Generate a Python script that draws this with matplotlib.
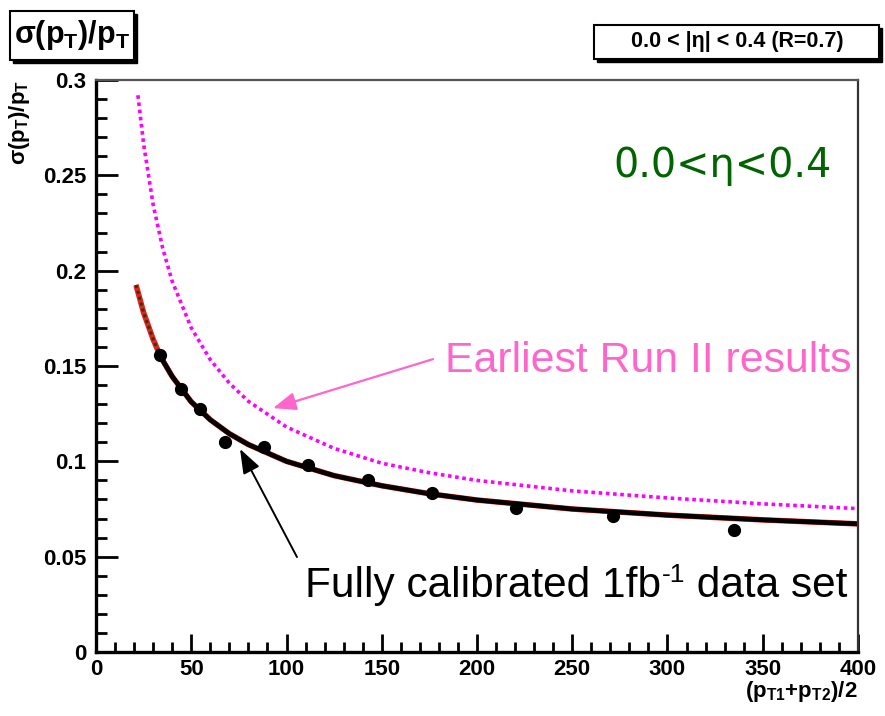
import numpy as np
import matplotlib.pyplot as plt
from matplotlib.patches import Rectangle

plt.rcParams['font.family'] = ['Liberation Sans', 'DejaVu Sans']
plt.rcParams['mathtext.fontset'] = 'custom'
plt.rcParams['mathtext.rm'] = 'Liberation Sans'
plt.rcParams['mathtext.bf'] = 'Liberation Sans:bold'
plt.rcParams['mathtext.it'] = 'Liberation Sans:italic'

# measured points (dijet balance)
pt_data = [33.6, 44.5, 54.6, 67.7, 88.2, 111.5, 142.6, 176.2, 220.3, 271.6, 335.0]
res_data = [0.1560, 0.1378, 0.1273, 0.1103, 0.1073, 0.0981, 0.0902, 0.0835, 0.0753, 0.0713, 0.0640]

# fit curve of the 1fb-1 data
pt_fit = [21, 25, 30, 33, 35, 40, 50, 60, 70, 80, 100, 125, 150, 175, 200, 250, 300, 350, 400]
res_fit = [0.1925, 0.1780, 0.1640, 0.1570, 0.1530, 0.1445, 0.1312, 0.1218, 0.1145, 0.1088,
           0.1000, 0.0925, 0.0872, 0.0830, 0.0797, 0.0750, 0.0718, 0.0693, 0.0672]

# earliest Run II curve
pt_old = [22, 25, 30, 35, 40, 50, 60, 70, 80, 100, 125, 150, 175, 200, 250, 300, 350, 400]
res_old = [0.2920, 0.2663, 0.2346, 0.2118, 0.1944, 0.1700, 0.1533, 0.1410, 0.1315, 0.1180,
           0.1068, 0.0990, 0.0940, 0.0900, 0.0845, 0.0808, 0.0777, 0.0752]

W, H = 885, 716
fig = plt.figure(figsize=(8.85, 7.16), dpi=100)
ax = fig.add_axes([96/W, 1-652/H, (858-96)/W, (652-80)/H])

pt_fit = np.array(pt_fit)
res_fit = np.array(res_fit)
ax.plot(pt_old, res_old, color='#ff00ff', lw=2.6, linestyle=(0, (1.0, 1.0)))
ax.plot(pt_fit, res_fit, color='#e8201a', lw=4.0, solid_capstyle='butt')
m = pt_fit <= 33
ax.plot(pt_fit[m], res_fit[m], color='#2a3a10', lw=2.2, linestyle=(0, (1, 1)))
m = pt_fit >= 33
ax.plot(pt_fit[m], res_fit[m], color='black', lw=3.4)
ax.plot(pt_data, res_data, 'o', color='black', ms=8.5)

ax.set_xlim(0, 400)
ax.set_ylim(0, 0.3)
ax.set_xticks(np.arange(0, 401, 50))
ax.set_xticks(np.arange(0, 401, 10), minor=True)
ax.set_yticks([0, 0.05, 0.1, 0.15, 0.2, 0.25, 0.3])
ax.set_yticklabels(['0', '0.05', '0.1', '0.15', '0.2', '0.25', '0.3'])
ax.set_yticks(np.arange(0, 0.301, 0.01), minor=True)
ax.tick_params(which='both', direction='in', width=2.0, top=False, right=False)
ax.tick_params(which='major', axis='y', length=16, pad=7)
ax.tick_params(which='minor', axis='y', length=8)
ax.tick_params(which='major', axis='x', length=13, pad=5)
ax.tick_params(which='minor', axis='x', length=7)
for lab in ax.get_xticklabels() + ax.get_yticklabels():
    lab.set_fontsize(16)
    lab.set_fontweight('bold')
ax.spines['left'].set_linewidth(2.4)
ax.spines['bottom'].set_linewidth(2.4)
ax.spines['top'].set_linewidth(1.6)
ax.spines['top'].set_color('#555555')
ax.spines['right'].set_linewidth(1.6)
ax.spines['right'].set_color('#333333')

# axis titles
fig.text(20/W, 1-80/H, r'σ(p$_\mathbf{T}$)/p$_\mathbf{T}$', rotation=90,
         ha='center', va='top', fontsize=16, fontweight='bold')
fig.text(858/W, 1-692/H, r'(p$_\mathbf{T1}$+p$_\mathbf{T2}$)/2',
         ha='right', va='center', fontsize=16, fontweight='bold')

# title boxes
def box(x0, y0, x1, y1):
    fig.patches.append(Rectangle((x0/W + 3/W, 1-y1/H - 3/H), (x1-x0)/W, (y1-y0)/H,
                                 transform=fig.transFigure, facecolor='black',
                                 edgecolor='black', lw=1))
    fig.patches.append(Rectangle((x0/W, 1-y1/H), (x1-x0)/W, (y1-y0)/H,
                                 transform=fig.transFigure, facecolor='white',
                                 edgecolor='black', lw=1.5))

box(10, 11, 134, 60)
fig.text(72/W, 1-35/H, r'σ(p$_\mathbf{T}$)/p$_\mathbf{T}$', ha='center', va='center',
         fontsize=22, fontweight='bold')
box(594, 25, 879, 59)
fig.text(737/W, 1-42/H, '0.0 < |η| < 0.4 (R=0.7)', ha='center', va='center',
         fontsize=15.5, fontweight='bold')

# annotations
fig.text(613/W, 1-177/H, '0.0<η<0.4', ha='left', va='baseline',
         fontsize=28.6, color='#006400', family=['DejaVu Sans'])
fig.text(445/W, 1-372/H, 'Earliest Run II results', ha='left', va='baseline',
         fontsize=30.8, color='#ff66cc')

# "Fully calibrated 1fb^-1 data set" with a plain hyphen in the exponent
rend = fig.canvas.get_renderer()
t1 = fig.text(305/W, 1-597/H, 'Fully calibrated 1fb', ha='left', va='baseline',
              fontsize=30.5, color='black')
x1 = t1.get_window_extent(rend).x1
t2 = fig.text(x1/W + 1/W, 1-597/H + 15/H, '-1', ha='left', va='baseline',
              fontsize=19, color='black')
x2 = t2.get_window_extent(rend).x1
fig.text(x2/W, 1-597/H, ' data set', ha='left', va='baseline',
         fontsize=30.5, color='black')

ax.annotate('', xy=(92.9, 0.1279), xytext=(176.9, 0.1536),
            arrowprops=dict(arrowstyle='-|>,head_length=1.4,head_width=0.55',
                            color='#ff66cc', lw=1.6, shrinkA=0, shrinkB=0))
ax.annotate('', xy=(75.6, 0.1065), xytext=(105.5, 0.0498),
            arrowprops=dict(arrowstyle='-|>,head_length=1.5,head_width=0.55',
                            color='black', lw=1.4, shrinkA=0, shrinkB=0))

fig.savefig('out.png', dpi=100)
